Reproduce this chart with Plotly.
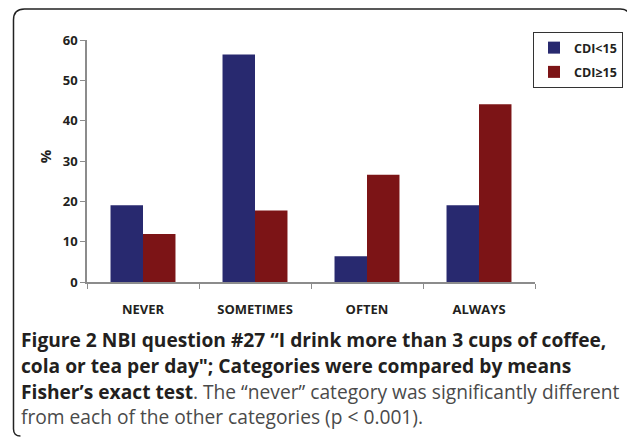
import plotly.graph_objects as go

categories = ["NEVER", "SOMETIMES", "OFTEN", "ALWAYS"]
cdi_low = [19.0, 56.4, 6.4, 19.0]
cdi_high = [11.9, 17.7, 26.6, 44.1]
series_names = ["CDI<15", "CDI≥15"]
y_ticks = [0, 10, 20, 30, 40, 50, 60]

# page is 635x439; browser body margin puts the figure at (8, 8)
OFF = 8
FW, FH = 635 - OFF, 439 - OFF
L, R, T, B = 87, 538, 40, 282  # plot area in page pixels

def px(x):
    return (x - L) / (R - L)

def py(y):
    return (B - y) / (B - T)

FONT = "Open Sans"
DARK = "#231f20"

fig = go.Figure()
fig.add_trace(go.Bar(x=categories, y=cdi_low, name=series_names[0],
                     marker=dict(color="#28296f", line=dict(width=0)),
                     legendgroup="a"))
fig.add_trace(go.Bar(x=categories, y=cdi_high, name=series_names[1],
                     marker=dict(color="#7c1416", line=dict(width=0)),
                     legendgroup="b"))

fig.update_layout(
    width=FW, height=FH,
    margin=dict(l=L - OFF, r=FW - (R - OFF), t=T - OFF, b=FH - (B - OFF), pad=0),
    paper_bgcolor="white", plot_bgcolor="white",
    barmode="group", bargap=0.42, bargroupgap=0,
    font=dict(family=FONT, color=DARK),
    showlegend=True,
    legend=dict(x=px(536), y=py(32), xanchor="left", yanchor="top",
                bordercolor="#333333", borderwidth=1,
                font=dict(size=12.5, family=FONT, color=DARK, weight="bold"),
                tracegroupgap=5, itemwidth=30, bgcolor="white"),
)

fig.update_xaxes(
    showline=True, linecolor="#8c8c8c", linewidth=1.5,
    ticks="outside", tickson="boundaries", ticklen=5, tickcolor="#8c8c8c",
    tickfont=dict(size=13, family=FONT, color=DARK, weight="bold"),
    ticklabelstandoff=15, showgrid=False, zeroline=False,
)
fig.update_yaxes(
    range=[0, 60], tickvals=y_ticks, showline=True, linecolor="#8c8c8c",
    linewidth=1.5, ticks="outside", ticklen=5, tickcolor="#8c8c8c",
    tickfont=dict(size=13, family=FONT, color=DARK, weight="bold"),
    showgrid=False, zeroline=False,
)

# y-axis title
fig.add_annotation(text="<b>%</b>", x=px(45), y=py(156), xref="paper", yref="paper",
                   xanchor="center", yanchor="middle",
                   showarrow=False, textangle=-90,
                   font=dict(size=15, family=FONT, color=DARK))

# outer frame
path = (f"M {px(20)},{py(436)} Q {px(13)},{py(436)} {px(13)},{py(429)} "
        f"L {px(13)},{py(20)} Q {px(13)},{py(9)} {px(24)},{py(9)} "
        f"L {px(624)},{py(9)} Q {px(634)},{py(9)} {px(634)},{py(20)} "
        f"L {px(634)},{py(440)}")
fig.add_shape(type="path", path=path, xref="paper", yref="paper",
              line=dict(color="#222222", width=1.5))

caption_lines = [
    "<b>Figure 2</b> <b>NBI question #27 “I drink more than 3 cups of coffee,</b>",
    "<b>cola or tea per day\"; Categories were compared by means</b>",
    "<b>Fisher’s exact test</b><span style='color:#4a4a4a'>. The “never” category was significantly different</span>",
    "<span style='color:#4a4a4a'>from each of the other categories (p &lt; 0.001).</span>",
]
caption_y = [339, 365, 391, 416.5]
for line, yy in zip(caption_lines, caption_y):
    fig.add_annotation(text=line, x=px(19), y=py(yy), xref="paper", yref="paper",
                       xanchor="left", yanchor="middle", showarrow=False,
                       font=dict(size=19.2, family=FONT, color=DARK))

fig.write_html("out.html")
